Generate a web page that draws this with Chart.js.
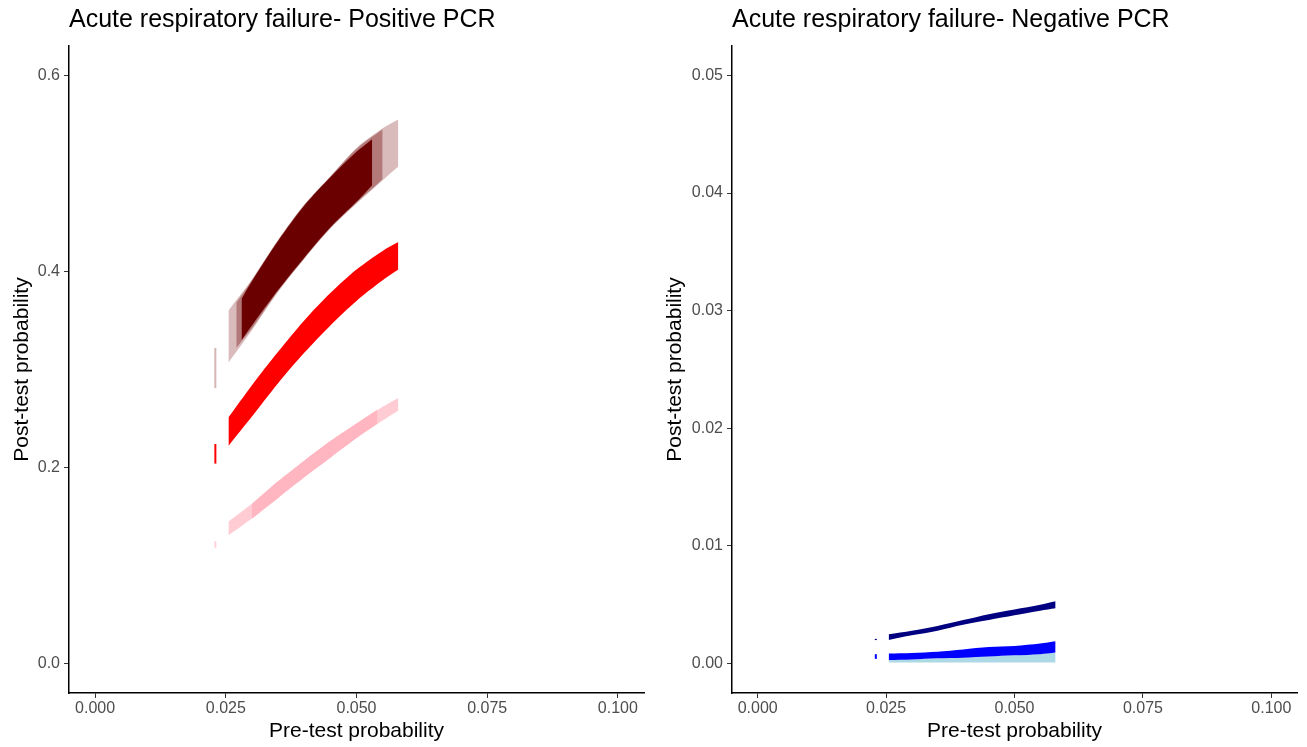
<!DOCTYPE html>
<html>
<head>
<meta charset="utf-8">
<script src="https://cdn.jsdelivr.net/npm/chart.js@4.4.1/dist/chart.umd.min.js"></script>
<style>
  body { margin: 0; background: #fff; }
  #left { position: absolute; left: 0; top: 0; width: 660px; height: 747px; }
  #right { position: absolute; left: 660px; top: 0; width: 647px; height: 747px; }
</style>
</head>
<body>
<div id="left"><canvas id="posChart"></canvas></div>
<div id="right"><canvas id="negChart"></canvas></div>
<script>
// pre-test probability grid
const preTest = [0.0255, 0.030, 0.035, 0.040, 0.045, 0.050, 0.055, 0.058];
const isoPre = 0.023;
const xTicks = [0, 0.025, 0.05, 0.075, 0.1];

// Positive PCR bands (post-test probability, lower / upper edge)
const darkLo = [0.307, 0.340, 0.379, 0.413, 0.444, 0.469, 0.493, 0.507];
const darkHi = [0.360, 0.392, 0.432, 0.468, 0.497, 0.526, 0.546, 0.555];
const darkMidPre = [0.027, 0.030, 0.035, 0.040, 0.045, 0.050, 0.055];
const darkMidLo = [0.322, 0.342, 0.380, 0.413, 0.444, 0.470, 0.494];
const darkMidHi = [0.368, 0.391, 0.432, 0.468, 0.497, 0.525, 0.545];
const darkCorePre = [0.028, 0.030, 0.035, 0.040, 0.045, 0.050, 0.053];
const darkCoreLo = [0.330, 0.345, 0.381, 0.414, 0.445, 0.471, 0.488];
const darkCoreHi = [0.372, 0.390, 0.431, 0.467, 0.496, 0.522, 0.535];
const redLo = [0.222, 0.252, 0.286, 0.317, 0.345, 0.370, 0.391, 0.402];
const redHi = [0.251, 0.284, 0.318, 0.350, 0.378, 0.402, 0.421, 0.430];
const pinkLo = [0.131, 0.148, 0.169, 0.190, 0.210, 0.230, 0.248, 0.258];
const pinkHi = [0.145, 0.163, 0.186, 0.207, 0.227, 0.245, 0.262, 0.271];
const pinkCorePre = [0.030, 0.035, 0.040, 0.045, 0.050, 0.054];
const pinkCoreLo = [0.148, 0.169, 0.190, 0.210, 0.230, 0.245];
const pinkCoreHi = [0.163, 0.186, 0.207, 0.227, 0.245, 0.259];
const darkIso = [0.281, 0.322];
const redIso = [0.204, 0.224];
const pinkIso = [0.118, 0.125];
const posYTicks = [0, 0.2, 0.4, 0.6];

// Negative PCR bands
const navyLo = [0.0020, 0.0024, 0.0028, 0.0033, 0.0037, 0.0041, 0.0045, 0.0047];
const navyHi = [0.0025, 0.0028, 0.0032, 0.0037, 0.0042, 0.0046, 0.0050, 0.0053];
const blueLo = [0.0003, 0.00035, 0.00045, 0.0005, 0.0006, 0.0007, 0.0008, 0.00094];
const blueHi = [0.00085, 0.0009, 0.0010, 0.0012, 0.0014, 0.0015, 0.0017, 0.0019];
const lightLo = [0.0001, 0.0001, 0.0001, 0.0001, 0.0001, 0.0001, 0.0001, 0.0001];
const lightHi = [0.0003, 0.00035, 0.00045, 0.0005, 0.0006, 0.0007, 0.0008, 0.00094];
const navyIso = [0.0020, 0.0021];
const blueIso = [0.0004, 0.0008];
const negYTicks = [0, 0.01, 0.02, 0.03, 0.04, 0.05];

const FONT = "'Liberation Sans', Arial, sans-serif";

function band(xs, lo, hi, color, order) {
  const base = { pointRadius: 0, borderWidth: 1, borderColor: 'rgba(0,0,0,0)', tension: 0.3, order: order };
  return [
    Object.assign({}, base, { data: xs.map((x, i) => ({ x: x, y: lo[i] })), fill: false }),
    Object.assign({}, base, { data: xs.map((x, i) => ({ x: x, y: hi[i] })), fill: '-1', backgroundColor: color })
  ];
}

function column(x, ys, color, order) {
  return { data: ys.map(y => ({ x: x, y: y })), borderColor: color, borderWidth: 2,
           pointRadius: 0, fill: false, order: order };
}

function makeChart(id, title, datasets, yMin, yMax, yTicks, yDigits, yWidth, padRight, yTitlePad) {
  return new Chart(document.getElementById(id), {
    type: 'line',
    data: { datasets: datasets },
    options: {
      responsive: true,
      maintainAspectRatio: false,
      animation: false,
      layout: { padding: { left: 0, right: padRight, top: 0, bottom: 0 } },
      plugins: {
        legend: { display: false },
        tooltip: { enabled: false },
        title: {
          display: true, text: title, align: 'start', fullSize: false, color: '#000',
          font: { family: FONT, size: 25, weight: 'normal' },
          padding: { top: 5, bottom: 11 }
        }
      },
      scales: {
        x: {
          type: 'linear', min: -0.005, max: 0.105,
          afterBuildTicks: s => { s.ticks = xTicks.map(v => ({ value: v })); },
          afterFit: s => { s.height = 54; },
          grid: { display: true, drawOnChartArea: false, drawTicks: true, tickLength: 5, color: '#333' },
          border: { display: true, color: '#000', width: 1.5 },
          ticks: { color: '#4d4d4d', padding: 1, maxRotation: 0, font: { family: FONT, size: 16 },
                   callback: v => v.toFixed(3) },
          title: { display: true, text: 'Pre-test probability', color: '#000',
                   font: { family: FONT, size: 21 }, padding: { top: 0, bottom: 3 } }
        },
        y: {
          type: 'linear', min: yMin, max: yMax,
          afterBuildTicks: s => { s.ticks = yTicks.map(v => ({ value: v })); },
          afterFit: s => { s.width = yWidth; },
          grid: { display: true, drawOnChartArea: false, drawTicks: true, tickLength: 5, color: '#333' },
          border: { display: true, color: '#000', width: 1.5 },
          ticks: { color: '#4d4d4d', padding: 4, font: { family: FONT, size: 16 },
                   callback: v => v.toFixed(yDigits) },
          title: { display: true, text: 'Post-test probability', color: '#000',
                   font: { family: FONT, size: 21 }, padding: { top: yTitlePad, bottom: 0 } }
        }
      }
    }
  });
}

// Positive PCR
const posSets = [].concat(
  band(darkCorePre, darkCoreLo, darkCoreHi, '#6b0000', 1),
  band(darkMidPre, darkMidLo, darkMidHi, 'rgba(110, 0, 0, 0.35)', 2),
  band(preTest, darkLo, darkHi, 'rgba(120, 10, 10, 0.28)', 3),
  band(preTest, redLo, redHi, '#ff0000', 2),
  band(pinkCorePre, pinkCoreLo, pinkCoreHi, '#ffb6c1', 2),
  band(preTest, pinkLo, pinkHi, 'rgba(255, 182, 193, 0.7)', 3),
  [column(isoPre, darkIso, 'rgba(120, 10, 10, 0.3)', 2),
   column(isoPre, redIso, '#ff0000', 2),
   column(isoPre, pinkIso, 'rgba(255, 182, 193, 0.6)', 2)]
);
makeChart('posChart', 'Acute respiratory failure- Positive PCR', posSets,
  -0.03, 0.63, posYTicks, 1, 69, 16, 10);

// Negative PCR
const negSets = [].concat(
  band(preTest, navyLo, navyHi, '#000080', 1),
  band(preTest, blueLo, blueHi, '#0000ff', 1),
  band(preTest, lightLo, lightHi, '#add8e6', 2),
  [column(isoPre, navyIso, '#000080', 1),
   column(isoPre, blueIso, '#0000ff', 1)]
);
makeChart('negChart', 'Acute respiratory failure- Negative PCR', negSets,
  -0.0025, 0.0525, negYTicks, 2, 72, 10, 3);
</script>
</body>
</html>
